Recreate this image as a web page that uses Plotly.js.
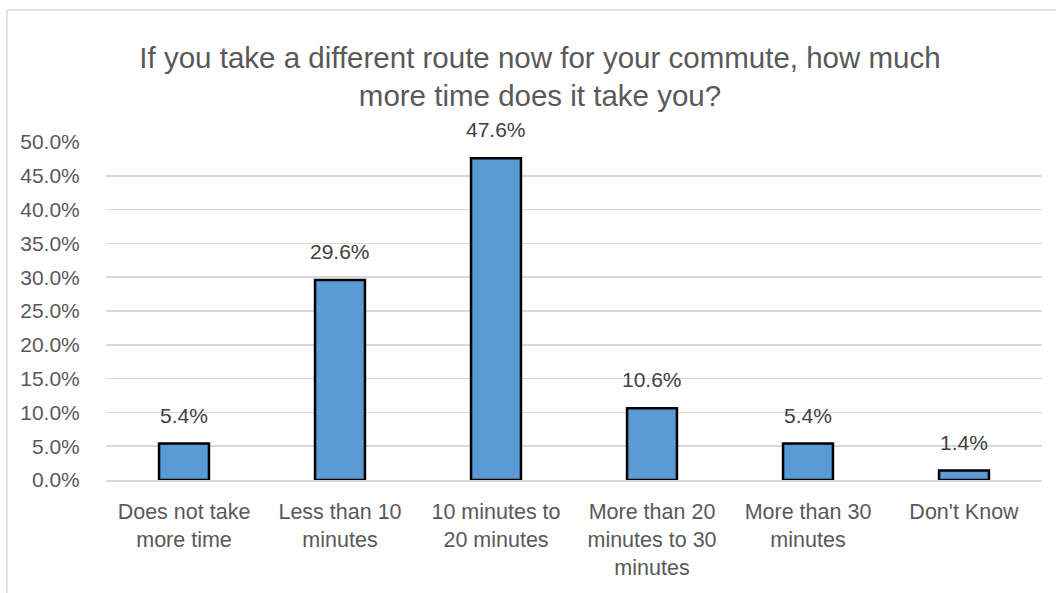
<!DOCTYPE html>
<html>
<head>
<meta charset="utf-8">
<script src="https://cdn.plot.ly/plotly-3.0.1.min.js"></script>
<style>
html,body{margin:0;padding:0;background:#fff;}
#chart{width:1056px;height:593px;}
</style>
</head>
<body>
<div id="chart"></div>
<script>
const categories = [
  "Does not take<br>more time",
  "Less than 10<br>minutes",
  "10 minutes to<br>20 minutes",
  "More than 20<br>minutes to 30<br>minutes",
  "More than 30<br>minutes",
  "Don't Know"
];
const values = [0.054, 0.296, 0.476, 0.106, 0.054, 0.014];
const titleText = "If you take a different route now for your commute, how much<br>more time does it take you?";
const yTickVals = [0, 0.05, 0.10, 0.15, 0.20, 0.25, 0.30, 0.35, 0.40, 0.45, 0.50];

const FONT = "Liberation Sans, Arial, sans-serif";

const trace = {
  type: 'bar',
  x: categories,
  y: values,
  marker: {color: '#5B9BD5', line: {color: '#000000', width: 2.5}},
  hoverinfo: 'none'
};

const annotations = categories.map((c, i) => ({
  x: c, y: values[i], xref: 'x', yref: 'y',
  text: (values[i] * 100).toFixed(1) + '%',
  showarrow: false, yanchor: 'bottom', yshift: 15,
  font: {family: FONT, size: 21, color: '#404040'}
}));

const L = 106, R = 14, T = 142, B = 113;
const W = 1056 - L - R, H = 593 - T - B;
const px = v => (v - L) / W;
const py = v => (593 - B - v) / H;

const layout = {
  width: 1056, height: 593,
  margin: {l: L, r: R, t: T, b: B, pad: 0},
  paper_bgcolor: '#ffffff', plot_bgcolor: '#ffffff',
  font: {family: FONT, color: '#595959'},
  title: {
    text: titleText,
    font: {family: FONT, size: 29.5, color: '#595959', lineposition: 'none'},
    x: 540 / 1056, xref: 'container', xanchor: 'center',
    y: 1 - 68 / 593, yref: 'container', yanchor: 'top'
  },
  bargap: 0.68,
  showlegend: false,
  xaxis: {
    type: 'category',
    showgrid: false,
    showline: true, linecolor: '#D9D9D9', linewidth: 1.5,
    ticks: 'outside', ticklen: 12, tickcolor: 'rgba(0,0,0,0)',
    tickfont: {family: FONT, size: 21.5, color: '#595959'},
    tickangle: 0,
    fixedrange: true
  },
  yaxis: {
    range: [0, 0.5],
    tickvals: yTickVals,
    tickformat: '.1%',
    showgrid: true, gridcolor: '#D9D9D9', gridwidth: 1.5,
    zeroline: false, showline: false,
    ticks: 'outside', ticklen: 21, tickcolor: 'rgba(0,0,0,0)',
    tickfont: {family: FONT, size: 21, color: '#595959'},
    fixedrange: true
  },
  annotations: annotations,
  shapes: [
    {type: 'line', xref: 'paper', yref: 'paper', x0: px(7), x1: px(1060), y0: py(10), y1: py(10), line: {color: '#D9D9D9', width: 1.5}},
    {type: 'line', xref: 'paper', yref: 'paper', x0: px(7), x1: px(7), y0: py(10), y1: py(600), line: {color: '#D9D9D9', width: 1.5}}
  ]
};

Plotly.newPlot('chart', [trace], layout, {displayModeBar: false, staticPlot: true});
</script>
</body>
</html>
